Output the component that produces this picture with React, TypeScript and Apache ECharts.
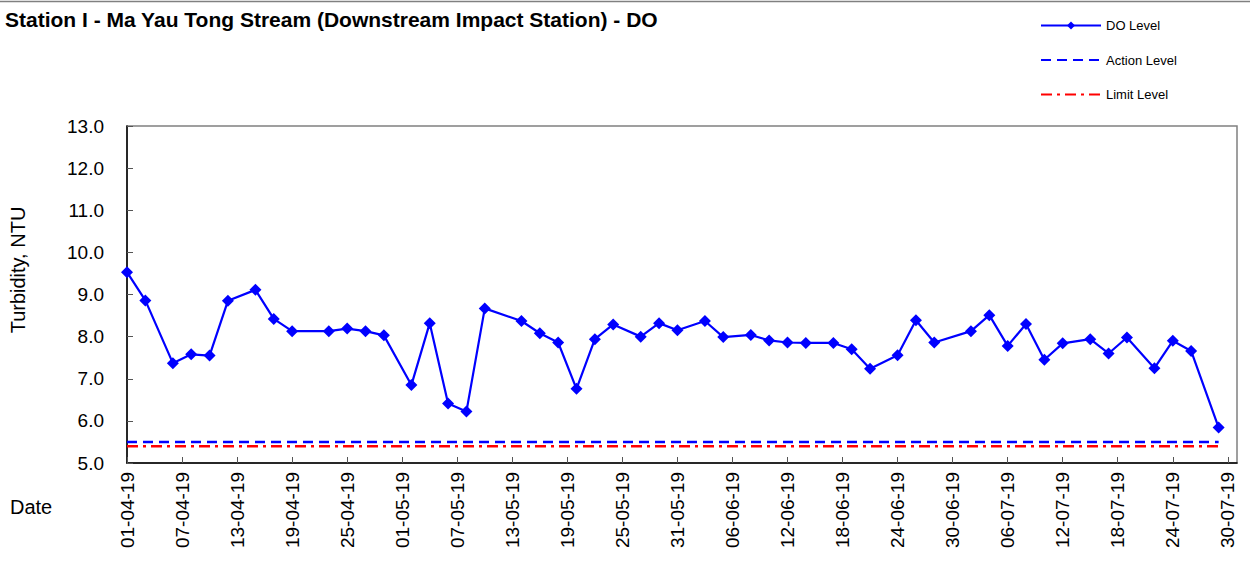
import React, { useEffect, useRef } from "react";
import * as echarts from "echarts";

const TITLE = "Station I - Ma Yau Tong Stream (Downstream Impact Station) - DO";
const Y_NAME = "Turbidity, NTU";
const X_NAME = "Date";
const START_DATE = "2019-04-01";
const END_DATE = "2019-07-31";

const sampleDates = [
  "2019-04-01", "2019-04-03", "2019-04-06", "2019-04-08", "2019-04-10", "2019-04-12",
  "2019-04-15", "2019-04-17", "2019-04-19", "2019-04-23", "2019-04-25", "2019-04-27",
  "2019-04-29", "2019-05-02", "2019-05-04", "2019-05-06", "2019-05-08", "2019-05-10",
  "2019-05-14", "2019-05-16", "2019-05-18", "2019-05-20", "2019-05-22", "2019-05-24",
  "2019-05-27", "2019-05-29", "2019-05-31", "2019-06-03", "2019-06-05", "2019-06-08",
  "2019-06-10", "2019-06-12", "2019-06-14", "2019-06-17", "2019-06-19", "2019-06-21",
  "2019-06-24", "2019-06-26", "2019-06-28", "2019-07-02", "2019-07-04", "2019-07-06",
  "2019-07-08", "2019-07-10", "2019-07-12", "2019-07-15", "2019-07-17", "2019-07-19",
  "2019-07-22", "2019-07-24", "2019-07-26", "2019-07-29",
];

const doLevel = [
  9.53, 8.86, 7.37, 7.58, 7.55, 8.85,
  9.11, 8.42, 8.13, 8.13, 8.19, 8.13,
  8.03, 6.85, 8.32, 6.41, 6.22, 8.67,
  8.37, 8.08, 7.86, 6.76, 7.94, 8.29,
  8.0, 8.32, 8.15, 8.37, 7.99, 8.04,
  7.91, 7.86, 7.85, 7.85, 7.7, 7.24,
  7.56, 8.39, 7.86, 8.13, 8.51, 7.78,
  8.3, 7.45, 7.84, 7.94, 7.6, 7.98,
  7.25, 7.9, 7.66, 5.84,
];

const actionLevel = 5.5;
const limitLevel = 5.4;

const yMin = 5;
const yMax = 13;
const yStep = 1;
const xStepDays = 6;

const DAY_MS = 86400000;
const startMs = Date.parse(START_DATE + "T00:00:00Z");
const dayIndex = (d: string) => Math.round((Date.parse(d + "T00:00:00Z") - startMs) / DAY_MS);
const xMaxDays = dayIndex(END_DATE);

const fmtDay = (n: number) => {
  const dt = new Date(startMs + n * DAY_MS);
  const dd = String(dt.getUTCDate()).padStart(2, "0");
  const mm = String(dt.getUTCMonth() + 1).padStart(2, "0");
  const yy = String(dt.getUTCFullYear()).slice(2);
  return `${dd}-${mm}-${yy}`;
};

const FONT = "'Liberation Sans', Arial, sans-serif";

export default function App() {
  const ref = useRef<HTMLDivElement>(null);
  useEffect(() => {
    if (!ref.current) return;
    const chart = echarts.init(ref.current, undefined, { renderer: "svg" });
    const doData = sampleDates.map((d, i) => [dayIndex(d), doLevel[i]]);
    const firstDay = dayIndex(sampleDates[0]);
    const lastDay = dayIndex(sampleDates[sampleDates.length - 1]);
    chart.setOption({
      animation: false,
      backgroundColor: "#ffffff",
      textStyle: { fontFamily: FONT },
      title: {
        text: TITLE,
        left: 5,
        top: 9,
        padding: 0,
        textStyle: { fontFamily: FONT, fontSize: 21, fontWeight: "bold", color: "#000" },
      },
      legend: {
        orient: "vertical",
        left: 1040,
        top: 19,
        padding: 0,
        itemWidth: 60,
        itemHeight: 10,
        itemGap: 21.5,
        textStyle: { fontFamily: FONT, fontSize: 13, color: "#000" },
        data: [
          { name: "DO Level" },
          { name: "Action Level", itemStyle: { opacity: 0 } },
          { name: "Limit Level", itemStyle: { opacity: 0 } },
        ],
      },
      grid: {
        left: 127,
        right: 13,
        top: 126,
        bottom: 115,
        show: true,
        borderColor: "#808080",
        borderWidth: 1.5,
      },
      xAxis: {
        type: "value",
        min: 0,
        max: xMaxDays,
        interval: xStepDays,
        axisLine: { show: true, onZero: false, lineStyle: { color: "#000", width: 1.5 } },
        axisTick: { show: true, inside: true, length: 6, lineStyle: { color: "#555" } },
        splitLine: { show: false },
        axisLabel: {
          rotate: 90,
          margin: 9,
          fontSize: 19,
          color: "#000",
          fontFamily: FONT,
          formatter: (v: number) => fmtDay(v),
          showMaxLabel: false,
        },
      },
      yAxis: {
        type: "value",
        min: yMin,
        max: yMax,
        interval: yStep,
        axisLine: { show: true, lineStyle: { color: "#000", width: 1.5 } },
        axisTick: { show: true, inside: true, length: 6, lineStyle: { color: "#555" } },
        splitLine: { show: false },
        axisLabel: {
          margin: 23,
          fontSize: 19,
          color: "#000",
          fontFamily: FONT,
          formatter: (v: number) => v.toFixed(1),
        },
      },
      graphic: [
        {
          type: "line",
          shape: { x1: 0, y1: 1.5, x2: 1250, y2: 1.5 },
          style: { stroke: "#808080", lineWidth: 1.5 },
        },
        {
          type: "text",
          x: 18,
          y: 270,
          rotation: Math.PI / 2,
          style: {
            text: Y_NAME,
            fontFamily: FONT,
            fontSize: 20,
            fill: "#000",
            align: "center",
            verticalAlign: "middle",
          },
        },
        {
          type: "text",
          x: 10,
          y: 507,
          style: {
            text: X_NAME,
            fontFamily: FONT,
            fontSize: 20,
            fill: "#000",
            align: "left",
            verticalAlign: "middle",
          },
        },
      ],
      series: [
        {
          name: "DO Level",
          type: "line",
          data: doData,
          symbol: "diamond",
          symbolSize: 12,
          itemStyle: { color: "#0000FF" },
          lineStyle: { color: "#0000FF", width: 2.2 },
          z: 5,
        },
        {
          name: "Action Level",
          type: "line",
          data: [[firstDay, actionLevel], [lastDay, actionLevel]],
          showSymbol: false,
          symbol: "none",
          itemStyle: { color: "#0000FF" },
          lineStyle: { color: "#0000FF", width: 2.5, type: [10, 6] },
        },
        {
          name: "Limit Level",
          type: "line",
          data: [[firstDay, limitLevel], [lastDay, limitLevel]],
          showSymbol: false,
          symbol: "none",
          itemStyle: { color: "#FF0000" },
          lineStyle: { color: "#FF0000", width: 2.5, type: [11, 5, 3, 5] },
        },
      ],
    });
    return () => chart.dispose();
  }, []);
  return (
    <div
      ref={ref}
      style={{ position: "fixed", left: 0, top: 0, width: 1250, height: 578 }}
    />
  );
}
